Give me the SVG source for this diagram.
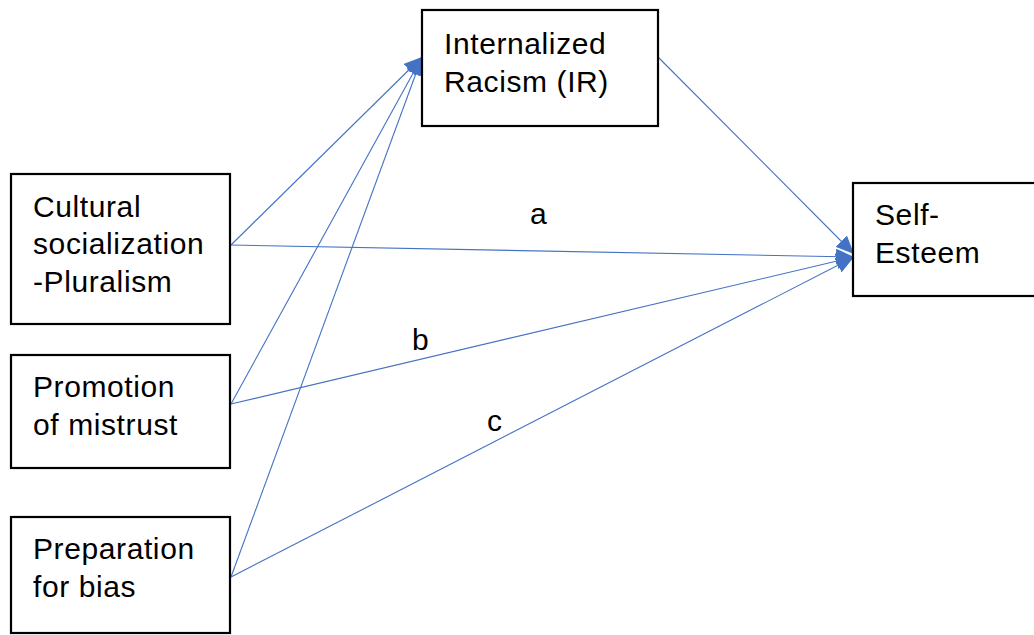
<svg xmlns="http://www.w3.org/2000/svg" width="1034" height="635" viewBox="0 0 1034 635">
<style>
.box{fill:#fff;stroke:#000;stroke-width:2.2}
.t{font-family:"Liberation Sans",Arial,sans-serif;font-size:30px;letter-spacing:0.6px;fill:#000}
.c{fill:none;stroke:#4472C4;stroke-width:1.1}
</style>
<defs>
<marker id="ah" markerUnits="userSpaceOnUse" markerWidth="20" markerHeight="16" refX="18" refY="8" orient="auto">
<path d="M0,0 L18,8 L0,16 Z" fill="#4472C4"/>
</marker>
</defs>
<rect width="1034" height="635" fill="#fff"/>
<g id="connectors">
<line class="c" x1="231" y1="245" x2="422" y2="57" marker-end="url(#ah)"/>
<line class="c" x1="231" y1="404" x2="422" y2="57" marker-end="url(#ah)"/>
<line class="c" x1="231" y1="577" x2="422" y2="57" marker-end="url(#ah)"/>
<line class="c" x1="231" y1="245" x2="854" y2="257" marker-end="url(#ah)"/>
<line class="c" x1="231" y1="404" x2="854" y2="257" marker-end="url(#ah)"/>
<line class="c" x1="231" y1="577" x2="854" y2="257" marker-end="url(#ah)"/>
<line class="c" x1="658" y1="57" x2="854" y2="254" marker-end="url(#ah)"/>
</g>
<g id="labels">
<text class="t" x="530" y="224">a</text>
<text class="t" x="412" y="350">b</text>
<text class="t" x="487" y="431">c</text>
</g>
<g id="ir">
<rect class="box" x="422" y="10" width="236" height="116"/>
<text class="t" x="444" y="54">Internalized</text>
<text class="t" x="444" y="92">Racism (IR)</text>
</g>
<g id="cultural">
<rect class="box" x="11" y="174" width="219" height="150"/>
<text class="t" x="33" y="217">Cultural</text>
<text class="t" x="33" y="254">socialization</text>
<text class="t" x="33" y="292">-Pluralism</text>
</g>
<g id="promotion">
<rect class="box" x="11" y="355" width="219" height="113"/>
<text class="t" x="33" y="397">Promotion</text>
<text class="t" x="33" y="435">of mistrust</text>
</g>
<g id="preparation">
<rect class="box" x="11" y="517" width="219" height="116"/>
<text class="t" x="33" y="559">Preparation</text>
<text class="t" x="33" y="597">for bias</text>
</g>
<g id="selfesteem">
<rect class="box" x="853" y="183" width="190" height="113"/>
<text class="t" x="875" y="225">Self-</text>
<text class="t" x="875" y="263">Esteem</text>
</g>
</svg>
